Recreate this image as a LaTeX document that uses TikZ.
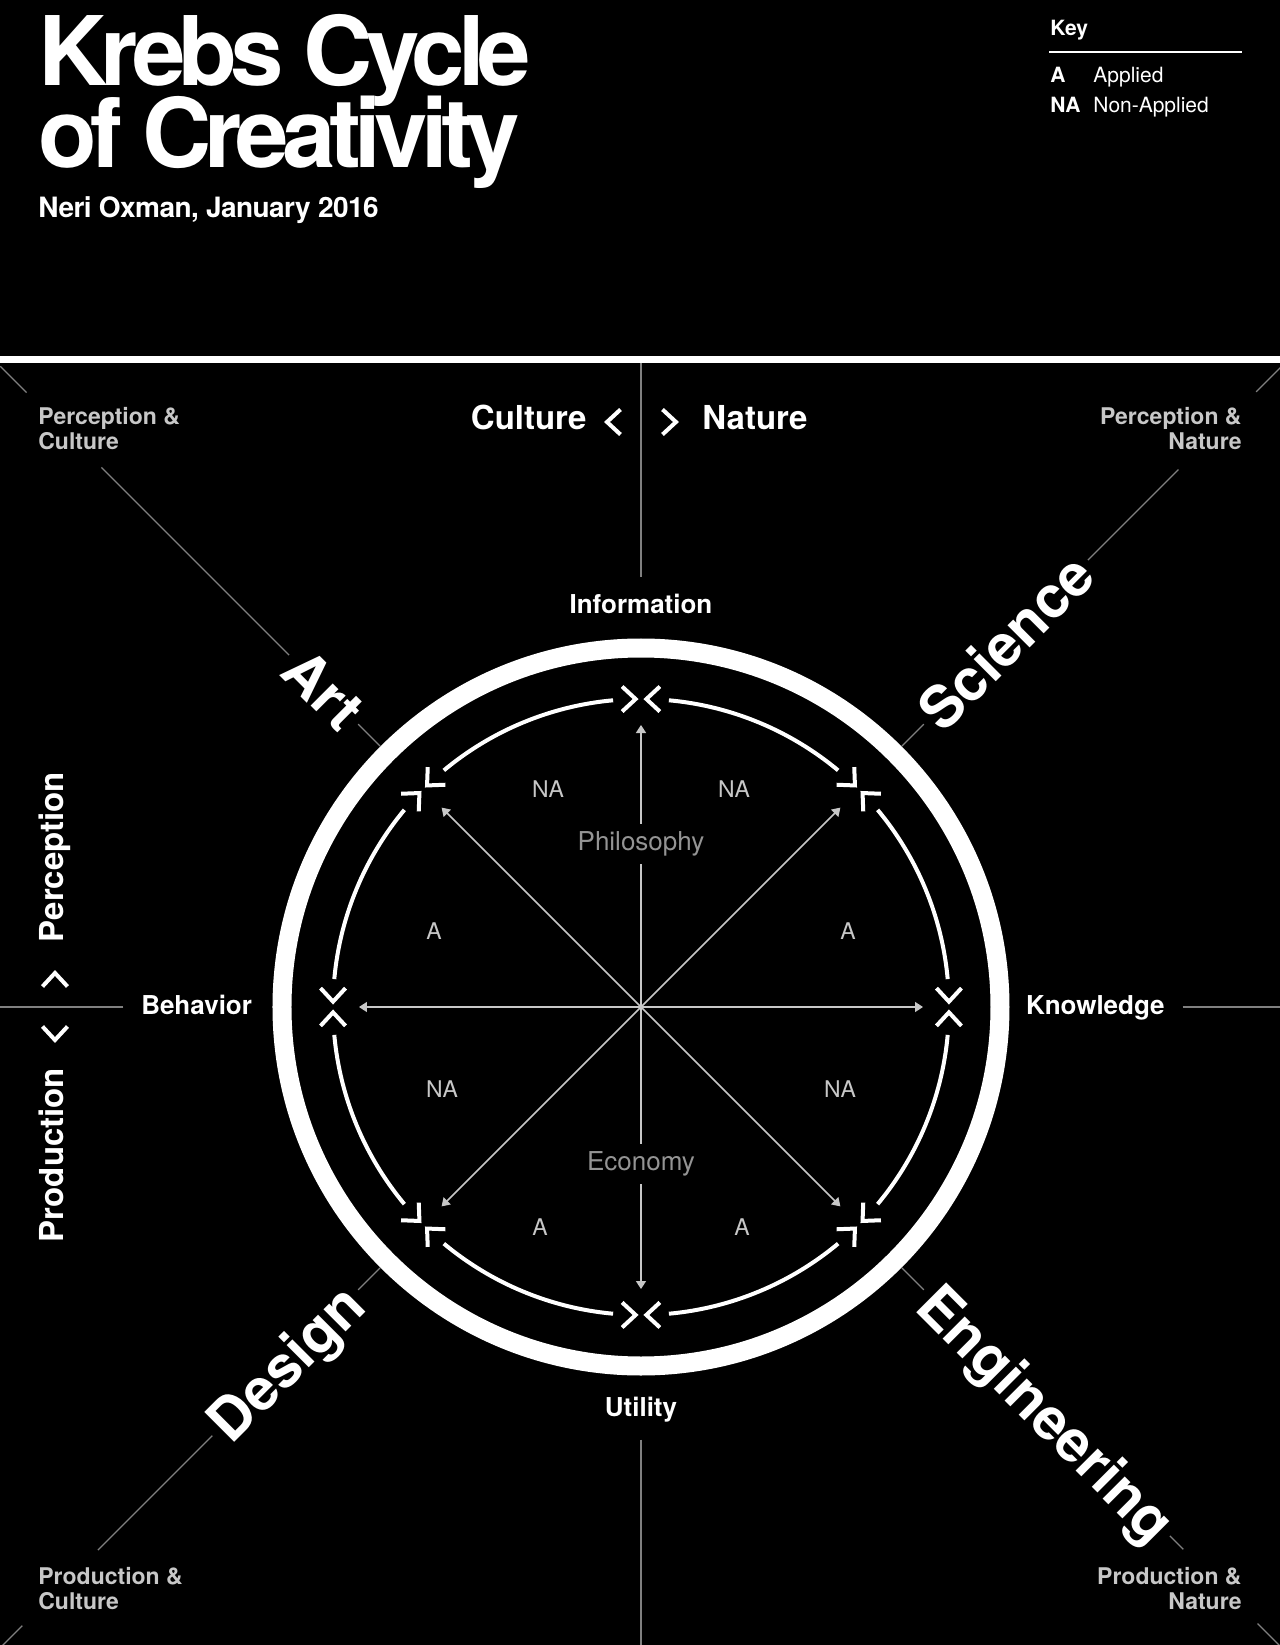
\documentclass[tikz,border=0pt]{standalone}
\usepackage{fontspec}
\setmainfont{TeX Gyre Heros}
\usetikzlibrary{arrows.meta}

\definecolor{softgray}{gray}{0.78}
\definecolor{midgray}{gray}{0.58}
\definecolor{axisgray}{gray}{0.5}

\newcommand\fntTitle{\fontsize{48}{52}\selectfont\bfseries\addfontfeatures{LetterSpace=-7}}
\newcommand\fntSub{\fontsize{14}{16}\selectfont\bfseries\addfontfeatures{LetterSpace=-2}}
\newcommand\fntKey{\fontsize{10.5}{12}\selectfont}
\newcommand\fntAxis{\fontsize{16.5}{18}\selectfont\bfseries}
\newcommand\fntRing{\fontsize{13}{15}\selectfont\bfseries}
\newcommand\fntBig{\fontsize{29}{32}\selectfont\bfseries}
\newcommand\fntCorner{\fontsize{11.5}{12.5}\selectfont\bfseries}
\newcommand\fntQuad{\fontsize{11.5}{13}\selectfont}
\newcommand\fntMid{\fontsize{13}{15}\selectfont}

\begin{document}
\begin{tikzpicture}[x=0.5pt,y=0.5pt]

\tikzset{
  txt/.style={inner sep=0pt,white},
  axis/.style={axisgray,line width=0.7pt},
  spoke/.style={softgray,line width=0.8pt,-{Triangle[length=4pt,width=5pt]}},
  chevron/.style={white,line width=2pt,line cap=butt,line join=miter},
  arcline/.style={white,line width=2pt},
  axlabel/.style={txt,font=\fntAxis},
  ringlabel/.style={txt,font=\fntRing,text height=9.7pt,text depth=2.8pt,outer sep=9pt},
  biglabel/.style={txt,font=\fntBig,text height=20.9pt,text depth=0pt,inner sep=3pt},
  cornerlabel/.style={txt,softgray,font=\fntCorner},
  quadlabel/.style={txt,softgray,font=\fntQuad},
  midlabel/.style={txt,midgray,font=\fntMid,fill=black,inner sep=4pt},
  pics/chev/.style={code={\draw[chevron] (-13.5,12.5) -- (0,0) -- (-13.5,-12.5);}}
}

\fill[black] (-641,-638) rectangle (639,1007);
\useasboundingbox (-641,-638) rectangle (639,1007);

% header
\node[txt,font=\fntTitle,anchor=base west] (title1) at (-603,921) {Krebs Cycle};
\node[txt,font=\fntTitle,anchor=base west] (title2) at (-603,839) {of Creativity};
\node[txt,font=\fntSub,anchor=base west] (author) at (-603,789) {Neri Oxman, January 2016};

\node[txt,font=\fntKey\bfseries,anchor=base west] (key) at (409,971) {Key};
\coordinate (keyL) at (408,955);
\coordinate (keyR) at (601,955);
\draw[white,line width=1pt] (keyL) -- (keyR);
\node[txt,font=\fntKey\bfseries,anchor=base west] (ka) at (409,924) {A};
\node[txt,font=\fntKey,anchor=base west] (kaText) at (452,924) {Applied};
\node[txt,font=\fntKey\bfseries,anchor=base west] (kna) at (409,894) {NA};
\node[txt,font=\fntKey,anchor=base west] (knaText) at (452,894) {Non-Applied};

\coordinate (divL) at (-641,647.5);
\coordinate (divR) at (639,647.5);
\draw[white,line width=3.5pt] (divL) -- (divR);

% axes
\coordinate (ctr) at (0,0);
\coordinate (edgeN) at (0,644);
\coordinate (edgeS) at (0,-638);
\coordinate (edgeW) at (-641,0);
\coordinate (edgeE) at (639,0);

\node[ringlabel,anchor=base] (info) at (0,393) {Information};
\node[ringlabel,anchor=base] (util) at (0,-409) {Utility};
\node[ringlabel,anchor=base east] (behav) at (-371,-7) {Behavior};
\node[ringlabel,anchor=base west] (know) at (367,-7) {Knowledge};

\draw[axis] (info) -- (info |- edgeN);
\draw[axis] (util) -- (util |- edgeS);
\draw[axis] (behav) -- (behav -| edgeW);
\draw[axis] (know) -- (know -| edgeE);

\node[axlabel,anchor=base east] (culture) at (-54,577) {Culture};
\node[axlabel,anchor=base west] (nature) at (61,577) {Nature};
\pic[rotate=180] at (-34,585) {chev};
\pic at (35,585) {chev};

\node[axlabel,rotate=90,anchor=base] (percep) at (-577,150) {Perception};
\node[axlabel,rotate=90,anchor=base] (produc) at (-577,-148) {Production};
\pic[rotate=90] at (-586,34) {chev};
\pic[rotate=-90] at (-586,-33) {chev};

% diagonals
\coordinate (ringTL) at (135:369);
\coordinate (ringTR) at (45:369);
\coordinate (ringBL) at (225:369);
\coordinate (ringBR) at (315:369);
\coordinate (tl1) at (135:763);
\coordinate (tr1) at (45:760);
\coordinate (bl1) at (225:768);
\coordinate (br1) at (315:767);
\coordinate (tl2) at (135:869);
\coordinate (tr2) at (45:870);
\coordinate (bl2) at (225:875);
\coordinate (br2) at (315:872);
\coordinate (cornerTL) at (135:906);
\coordinate (cornerTR) at (45:906);
\coordinate (cornerBL) at (225:906);
\coordinate (cornerBR) at (315:906);

\node[biglabel,rotate=-45,anchor=east] (art) at (135:400) {Art};
\node[biglabel,rotate=45,anchor=west] (sci) at (45:400) {Science};
\node[biglabel,rotate=45,anchor=east] (design) at (225:400) {Design};
\node[biglabel,rotate=-45,anchor=west] (eng) at (315:400) {Engineering};

\draw[axis] (ringTL) -- (art.east);
\draw[axis] (art.west) -- (tl1);
\draw[axis] (tl2) -- (cornerTL);
\draw[axis] (ringTR) -- (sci.west);
\draw[axis] (sci.east) -- (tr1);
\draw[axis] (tr2) -- (cornerTR);
\draw[axis] (ringBL) -- (design.east);
\draw[axis] (design.west) -- (bl1);
\draw[axis] (bl2) -- (cornerBL);
\draw[axis] (ringBR) -- (eng.west);
\draw[axis] (eng.east) -- (br1);
\draw[axis] (br2) -- (cornerBR);

\node[cornerlabel,align=left,anchor=north west] (pc) at (-603,600) {Perception \&\\Culture};
\node[cornerlabel,align=right,anchor=north east] (pn) at (601,600) {Perception \&\\Nature};
\node[cornerlabel,align=left,anchor=north west] (prc) at (-603,-560) {Production \&\\Culture};
\node[cornerlabel,align=right,anchor=north east] (prn) at (601,-560) {Production \&\\Nature};

% cycle
\draw[white,line width=9.5pt] (ctr) circle (359);
\foreach \a in {0,45,...,315}{
  \draw[arcline] (\a+5.2:308) arc (\a+5.2:\a+39.8:308);
  \pic[rotate=\a+90] at (\a-1:308) {chev};
  \pic[rotate=\a-90] at (\a+1:308) {chev};
  \draw[spoke] (ctr) -- (\a:282);
}

\node[midlabel] (philo) at (0,163) {Philosophy};
\node[midlabel] (econ) at (0,-157) {Economy};

\node[quadlabel] (na1) at (-93,218) {NA};
\node[quadlabel] (na2) at (93,218) {NA};
\node[quadlabel] (a1) at (-207,76) {A};
\node[quadlabel] (a2) at (207,76) {A};
\node[quadlabel] (na3) at (-199,-82) {NA};
\node[quadlabel] (na4) at (199,-82) {NA};
\node[quadlabel] (a3) at (-101,-220) {A};
\node[quadlabel] (a4) at (101,-220) {A};

\end{tikzpicture}
\end{document}
